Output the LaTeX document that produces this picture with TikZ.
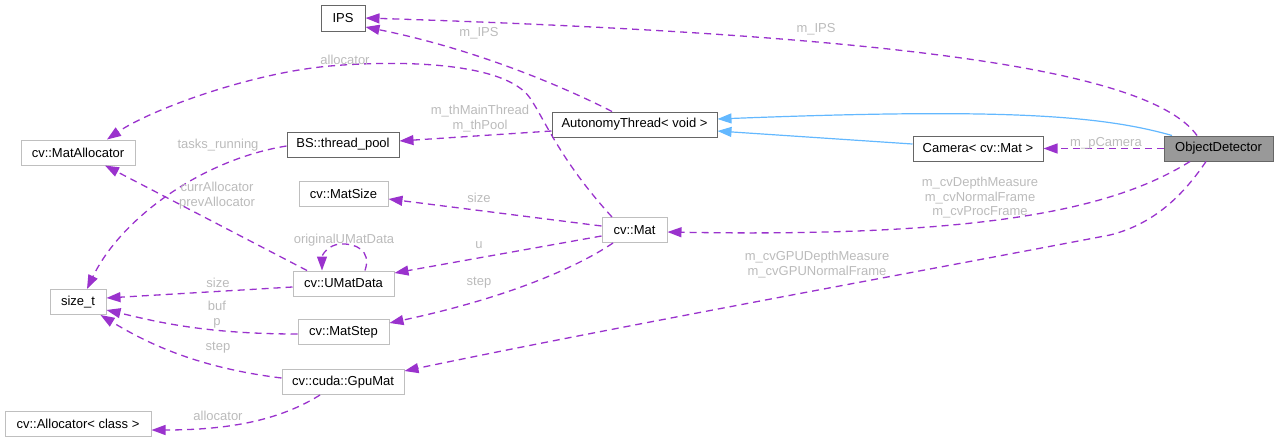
\documentclass[tikz,border=0pt]{standalone}
\usepackage{fontspec}
\setmainfont{Liberation Sans}
\usetikzlibrary{arrows.meta,calc}
\definecolor{edgepurple}{HTML}{9A32CD}
\definecolor{inhblue}{HTML}{63B8FF}
\definecolor{labelgray}{HTML}{BBBBBB}
\definecolor{boxdark}{HTML}{666666}
\definecolor{boxlight}{HTML}{BFBFBF}
\definecolor{odgray}{HTML}{999999}
\begin{document}
\begin{tikzpicture}[x=1pt,y=-1pt,
  box/.style={draw=boxdark, line width=1pt, inner sep=0pt, minimum height=25pt, font=\fontsize{13}{14.5}\selectfont, text=black},
  extbox/.style={box, draw=boxlight},
  rel/.style={draw=edgepurple, line width=1.3pt, dash pattern=on 7pt off 5pt, -{Triangle[length=14pt,width=10pt]}},
  inh/.style={draw=inhblue, line width=1.2pt, -{Triangle[length=14pt,width=10pt]}},
  lbl/.style={text=labelgray, font=\fontsize{13}{14.5}\selectfont, align=center, inner sep=0pt}
]
\useasboundingbox (0,0) rectangle (1278,442);

% nodes
\node[box, minimum width=44pt, minimum height=26pt] (ips) at (343,18) {IPS};
\node[extbox, minimum width=114pt] (matalloc) at (78,152.5) {cv::MatAllocator};
\node[box, minimum width=112pt] (tpool) at (343,144.5) {BS::thread\_pool};
\node[box, minimum width=165pt] (auto) at (634.5,124.5) {AutonomyThread< void >};
\node[box, minimum width=130pt] (cam) at (978,148.5) {Camera< cv::Mat >};
\node[box, fill=odgray, minimum width=109pt] (od) at (1218.5,148.5) {ObjectDetector};
\node[extbox, minimum width=89pt] (matsize) at (343.5,194) {cv::MatSize};
\node[extbox, minimum width=65pt] (mat) at (634.5,230) {cv::Mat};
\node[extbox, minimum width=101pt] (umat) at (343.5,283.5) {cv::UMatData};
\node[extbox, minimum width=56pt] (sizet) at (78,302) {size\_t};
\node[extbox, minimum width=91pt] (matstep) at (343.5,332) {cv::MatStep};
\node[extbox, minimum width=122pt] (gpumat) at (343,382) {cv::cuda::GpuMat};
\node[extbox, minimum width=146pt] (alloc) at (78,424) {cv::Allocator< class >};

% inheritance
\draw[inh] ($(od.north)+(-46.5,0)$) .. controls (1100,115) and (1000,108) .. ($(auto.east)+(0,-5.5)$);
\draw[inh] ($(cam.west)+(0,-4.5)$) -- ($(auto.east)+(0,6.5)$);

% usage relations
\draw[rel] ($(od.north)+(-21.5,0)$) .. controls (1150,70) and (900,35) .. (ips.east);
\node[lbl] (l1) at (816,29) {m\_IPS};

\draw[rel] ($(auto.north)+(-22.5,0)$) .. controls (570,90) and (480,50) .. ($(ips.east)+(0,9)$);
\node[lbl] (l2) at (479,33) {m\_IPS};

\draw[rel] ($(mat.north)+(-22.5,0)$) .. controls (560,160) and (545,120) .. (530,98)
  .. controls (505,62) and (400,60) .. (330,66)
  .. controls (250,73) and (150,110) .. ($(matalloc.north)+(29,0)$);
\node[lbl] (l3) at (345,60) {allocator};

\draw[rel] ($(auto.west)+(0,6.5)$) -- ($(tpool.east)+(0,-3.5)$);
\node[lbl] (l4) at (480,118.5) {m\_thMainThread\\m\_thPool};

\draw[rel] ($(tpool.west)+(0,1.5)$) .. controls (200,160) and (120,220) .. ($(sizet.north)+(9,0)$);
\node[lbl] (l5) at (218,145) {tasks\_running};

\draw[rel] (od.west) -- (cam.east);
\node[lbl] (l6) at (1106,143) {m\_pCamera};

\draw[rel] ($(od.south)+(-28.5,0)$) .. controls (1120,205) and (1000,238) .. ($(mat.east)+(0,2)$);
\node[lbl] (l7) at (980,198) {m\_cvDepthMeasure\\m\_cvNormalFrame\\m\_cvProcFrame};

\draw[rel] ($(od.south)+(-12.5,0)$) .. controls (1180,200) and (1150,225) .. (1110,235)
  .. controls (900,275) and (600,330) .. ($(gpumat.east)+(0,-11)$);
\node[lbl] (l8) at (817,264.5) {m\_cvGPUDepthMeasure\\m\_cvGPUNormalFrame};

\draw[rel] ($(mat.west)+(0,-4)$) -- ($(matsize.east)+(0,5)$);
\node[lbl] (l9) at (479,198) {size};

\draw[rel] ($(mat.west)+(0,6)$) -- ($(umat.east)+(0,-10.5)$);
\node[lbl] (l10) at (479,245) {u};

\draw[rel] ($(mat.south)+(-21.5,0)$) .. controls (585,262) and (520,295) .. ($(matstep.east)+(0,-9)$);
\node[lbl] (l11) at (479,283) {step};

\draw[rel] ($(umat.north)+(-36.5,0)$) -- ($(matalloc.south)+(27,0)$);
\node[lbl] (l12) at (217,195.5) {currAllocator\\prevAllocator};

\draw[rel] ($(umat.north)+(21.5,0)$) .. controls (372,250) and (355,243) .. (340,244)
  .. controls (328,245) and (322,255) .. ($(umat.north)+(-21.5,0)$);
\node[lbl] (l13) at (344,240) {originalUMatData};

\draw[rel] ($(umat.west)+(0,3.5)$) -- ($(sizet.east)+(0,-4)$);
\node[lbl] (l14) at (218,283) {size};

\draw[rel] ($(matstep.west)+(0,2)$) .. controls (200,334) and (150,320) .. ($(sizet.east)+(0,8)$);
\node[lbl] (l15) at (217,314.5) {buf\\p};

\draw[rel] ($(gpumat.west)+(0,-4)$) .. controls (200,368) and (150,345) .. ($(sizet.south east)+(-6,0)$);
\node[lbl] (l16) at (218,348) {step};

\draw[rel] ($(gpumat.south)+(-23,0)$) .. controls (280,420) and (230,430) .. ($(alloc.east)+(0,6)$);
\node[lbl] (l17) at (218,416) {allocator};
\end{tikzpicture}
\end{document}
